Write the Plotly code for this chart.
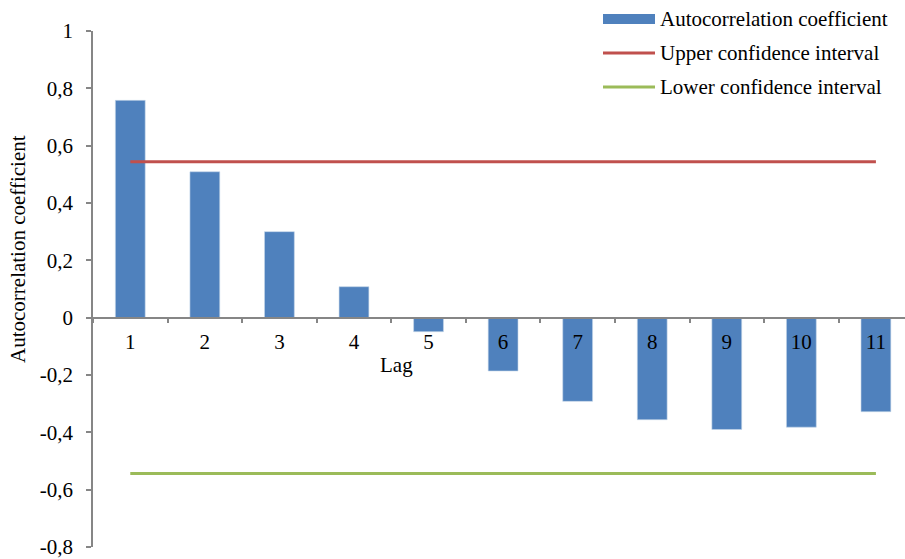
import plotly.graph_objects as go

# Autocorrelation function of the series, lags 1..11
lags = ["1", "2", "3", "4", "5", "6", "7", "8", "9", "10", "11"]
acf = [0.758, 0.509, 0.300, 0.108, -0.049, -0.186, -0.292, -0.356, -0.390, -0.382, -0.328]
upper_ci = [0.544] * len(lags)
lower_ci = [-0.544] * len(lags)

y_ticks = [-0.8, -0.6, -0.4, -0.2, 0, 0.2, 0.4, 0.6, 0.8, 1]
y_tick_text = ["-0,8", "-0,6", "-0,4", "-0,2", "0", "0,2", "0,4", "0,6", "0,8", "1"]

BLUE = "#4F81BD"
RED = "#C0504D"
GREEN = "#9BBB59"
AXIS = "#868686"
FONT = "Liberation Serif, Times New Roman, serif"
FS = 21

fig = go.Figure()
fig.add_trace(go.Bar(x=lags, y=acf, width=0.4, marker=dict(color=BLUE, line=dict(color="#C6D6EA", width=0.6)),
                     name="Autocorrelation coefficient"))
fig.add_trace(go.Scatter(x=lags, y=upper_ci, mode="lines", line=dict(color=RED, width=3),
                         name="Upper confidence interval"))
fig.add_trace(go.Scatter(x=lags, y=lower_ci, mode="lines", line=dict(color=GREEN, width=3),
                         name="Lower confidence interval"))

W, H = 905, 559
ML, MR, MT, MB = 93, 0, 31, 12
PW, PH = W - ML - MR, H - MT - MB


def px_x(px):
    return (px - ML) / PW


def px_y(py):
    return (H - MB - py) / PH


# Legend in the top-right corner: swatches and labels
legend_rows = [("Autocorrelation coefficient", BLUE, "bar", 19),
               ("Upper confidence interval", RED, "line", 53),
               ("Lower confidence interval", GREEN, "line", 87)]
shapes = []
annotations = []
for label, color, kind, yc in legend_rows:
    if kind == "bar":
        shapes.append(dict(type="rect", xref="paper", yref="paper",
                           x0=px_x(603), x1=px_x(655), y0=px_y(yc + 5), y1=px_y(yc - 5),
                           fillcolor=color, line=dict(width=0)))
    else:
        shapes.append(dict(type="line", xref="paper", yref="paper",
                           x0=px_x(603), x1=px_x(655), y0=px_y(yc), y1=px_y(yc),
                           line=dict(color=color, width=3)))
    annotations.append(dict(text=label, xref="paper", yref="paper", x=px_x(658), y=px_y(yc),
                            xanchor="left", yanchor="middle", showarrow=False,
                            font=dict(family=FONT, size=FS, color="black")))

# Axis titles
annotations.append(dict(text="Autocorrelation coefficient", xref="paper", yref="paper",
                        x=px_x(18), y=px_y(249), textangle=-90, showarrow=False,
                        xanchor="center", yanchor="middle",
                        font=dict(family=FONT, size=FS, color="black")))
annotations.append(dict(text="Lag", xref="paper", yref="paper", x=px_x(396), y=px_y(365),
                        showarrow=False, xanchor="center", yanchor="middle",
                        font=dict(family=FONT, size=FS, color="black")))

fig.update_layout(
    width=W, height=H,
    margin=dict(l=ML, r=MR, t=MT, b=MB),
    plot_bgcolor="white", paper_bgcolor="white",
    showlegend=False,
    font=dict(family=FONT, size=FS, color="black"),
    shapes=shapes, annotations=annotations,
    xaxis=dict(type="category", categoryorder="array", categoryarray=lags,
               range=[-0.5, 10.39], anchor="free", position=0.8 / 1.8,
               showline=True, linecolor=AXIS, linewidth=1.5,
               ticks="outside", ticklen=5, tickcolor=AXIS, tickwidth=1.5, tickson="boundaries",
               showgrid=False, zeroline=False, ticklabelstandoff=5,
               tickfont=dict(family=FONT, size=FS, color="black")),
    yaxis=dict(range=[-0.8, 1], tickvals=y_ticks, ticktext=y_tick_text,
               showline=True, linecolor=AXIS, linewidth=1.5,
               ticks="outside", ticklen=5, tickcolor=AXIS, tickwidth=1.5,
               showgrid=False, zeroline=False, ticklabelstandoff=9,
               ticklabeloverflow="allow",
               tickfont=dict(family=FONT, size=FS, color="black")),
)

fig.write_html("out.html")
